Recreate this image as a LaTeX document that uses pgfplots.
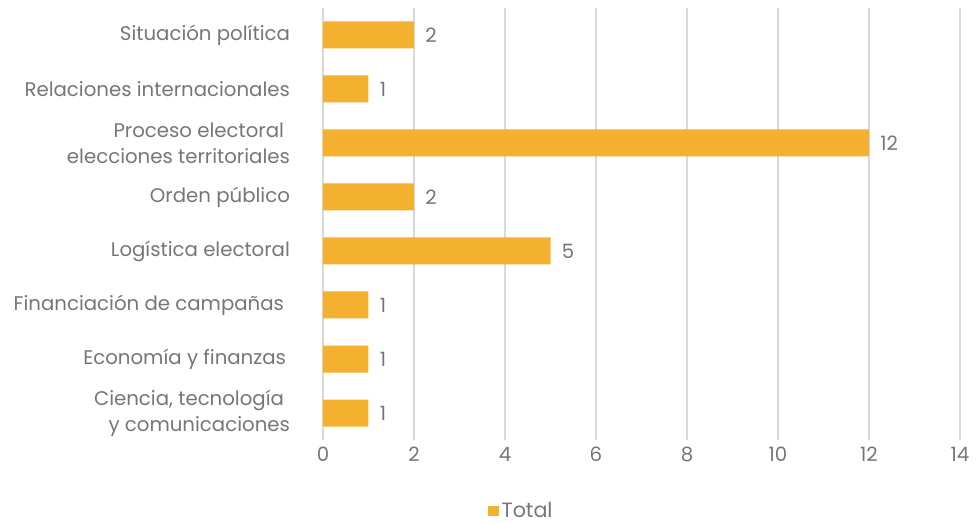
\documentclass[border=0pt]{standalone}
\usepackage{fontspec}
\setmainfont{Poppins}
\usepackage{pgfplots}
\pgfplotsset{compat=1.18}
\definecolor{barc}{HTML}{F4B02F}
\definecolor{txt}{HTML}{767676}
\definecolor{grd}{HTML}{D9D9D9}
\begin{document}
\begin{tikzpicture}
\begin{axis}[
  scale only axis, width=477.75pt, height=324pt,
  xbar, bar width=20.25pt,
  xmin=0, xmax=14, ymin=-0.5, ymax=7.5,
  xtick={0,2,...,14},
  ytick={0,...,7},
  yticklabels={{Ciencia, tecnología\hspace*{0.3em}\\y comunicaciones},
    {Economía y finanzas\hspace*{0.2em}},
    {Financiación de campañas\hspace*{0.3em}},
    {Logística electoral},
    {Orden público},
    {Proceso electoral\hspace*{0.3em}\\elecciones territoriales},
    {Relaciones internacionales},
    {Situación política}},
  yticklabel style={align=right, anchor=east, xshift=-17pt, font=\fontsize{14.8pt}{19.5pt}\selectfont, text=txt},
  xticklabel style={font=\fontsize{14.8pt}{18pt}\selectfont, text=txt, yshift=-2pt},
  /pgf/number format/assume math mode=true,
  major y tick style={draw=none},
  extra y ticks={-0.5,0.5,...,7.5},
  extra y tick labels={},
  extra y tick style={major tick length=5pt, tick align=outside, tick style={draw=grd, line width=1.2pt}},
  major x tick style={draw=none},
  xmajorgrids, grid style={draw=grd, line width=1.5pt},
  axis line style={draw=none},
  nodes near coords,
  nodes near coords style={anchor=west, xshift=5pt, font=\fontsize{14.8pt}{18pt}\selectfont, text=txt},
  legend style={at={(rel axis cs:0.259,-0.164)}, anchor=west, draw=none, fill=none, font=\fontsize{15.5pt}{18pt}\selectfont, text=txt, inner sep=0pt},
  legend image code/.code={\fill[barc] (0pt,-4pt) rectangle (8pt,4pt);},
  clip=false,
]
\addplot[fill=barc, draw=none] coordinates {(1,0) (1,1) (1,2) (5,3) (2,4) (12,5) (1,6) (2,7)};
\addlegendentry{Total}
\coordinate (bl) at (rel axis cs:-0.50706,-0.19213);
\coordinate (tr) at (rel axis cs:1.02512,1.01852);
\end{axis}
\pgfresetboundingbox
\path[use as bounding box] (bl) rectangle (tr);
\end{tikzpicture}
\end{document}
